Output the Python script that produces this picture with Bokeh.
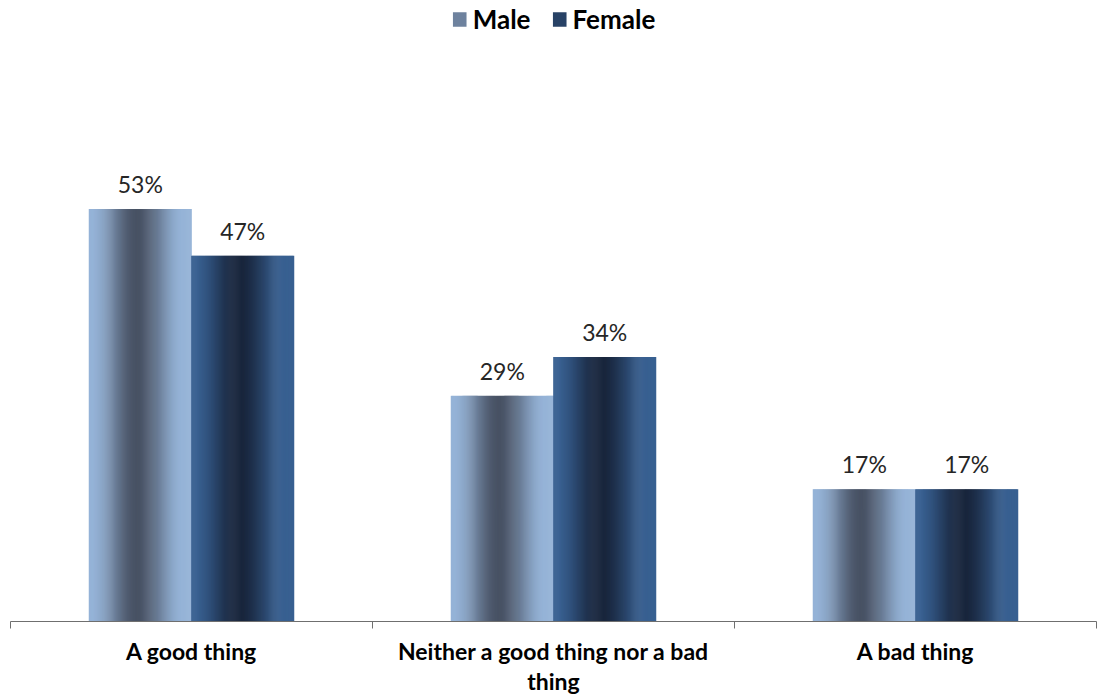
import numpy as np
from bokeh.plotting import figure
from bokeh.models import (ColumnDataSource, Range1d, FixedTicker, Legend, LegendItem)
from bokeh.core.properties import value
from bokeh.embed import file_html
from bokeh.resources import INLINE

# ---- data ----
categories = ["A good thing", "Neither a good thing nor a bad thing", "A bad thing"]
tick_labels = ["A good thing", "Neither a good thing nor a bad\nthing", "A bad thing"]
series_names = ["Male", "Female"]
male = [53, 29, 17]
female = [47, 34, 17]

# ---- styling ----
FONT = "Lato"
male_light, male_dark = (149, 179, 215), (72, 82, 100)
female_light, female_dark = (56, 96, 145), (24, 37, 60)
BAR_W = 0.283
N = 100

def hexcol(c):
    return "#%02x%02x%02x" % tuple(int(round(v)) for v in c)

def profile(t):
    d = np.clip(1 - np.abs(t - 0.47) / 0.45, 0, 1)
    return d * d * (3 - 2 * d)

p = figure(width=1097, height=698, output_backend="svg", toolbar_location=None,
           x_range=Range1d(0, 3), y_range=Range1d(0, 79.8),
           min_border_left=10, min_border_right=1, min_border_top=0, min_border_bottom=74)
p.outline_line_color = None
p.background_fill_color = "white"
p.border_fill_color = "white"
p.xgrid.visible = False
p.ygrid.visible = False
p.yaxis.visible = False

centers = np.arange(len(categories)) + 0.5
legend_items = []
for s, (vals, light, dark, off) in enumerate([(male, male_light, male_dark, -BAR_W / 2),
                                             (female, female_light, female_dark, BAR_W / 2)]):
    xs, tops, cols = [], [], []
    for i, v in enumerate(vals):
        left = centers[i] + off - BAR_W / 2
        for k in range(N):
            t = (k + 0.5) / N
            d = profile(t)
            c = tuple(light[j] * (1 - d) + dark[j] * d for j in range(3))
            xs.append(left + t * BAR_W)
            tops.append(v)
            cols.append(hexcol(c))
    src = ColumnDataSource(dict(x=xs, top=tops, color=cols))
    p.vbar(x="x", top="top", bottom=0, width=BAR_W / N * 1.6, fill_color="color",
           line_color=None, source=src)
    lsrc = ColumnDataSource(dict(x=centers + off, y=vals, t=["%d%%" % v for v in vals]))
    p.text(x="x", y="y", text="t", source=lsrc, text_align="center", text_baseline="bottom",
           y_offset=-11, text_font=value(FONT), text_font_size="23px", text_color="#262626")
    mid = tuple(light[j] * 0.5 + dark[j] * 0.5 for j in range(3))
    dummy = p.vbar(x=[-10], top=[0], width=0.1, fill_color=hexcol(mid), line_color=None)
    legend_items.append(LegendItem(label=series_names[s], renderers=[dummy]))

legend = Legend(items=legend_items, location="top_center", orientation="horizontal",
                label_text_font=FONT, label_text_font_style="bold", label_text_font_size="26px",
                label_text_color="#000000", glyph_width=17, glyph_height=18, label_standoff=5,
                spacing=20, padding=0, margin=3, border_line_color=None,
                background_fill_alpha=0)
p.add_layout(legend, "center")

ax = p.xaxis[0]
ax.ticker = FixedTicker(ticks=list(centers), minor_ticks=list(np.arange(len(categories) + 1)))
ax.major_label_overrides = {float(c): lab for c, lab in zip(centers, tick_labels)}
ax.major_tick_out = 0
ax.major_tick_in = 0
ax.minor_tick_out = 7
ax.minor_tick_in = 0
ax.axis_line_color = "#6f6f6f"
ax.minor_tick_line_color = "#6f6f6f"
ax.major_label_standoff = 8
ax.major_label_text_font = FONT
ax.major_label_text_font_style = "bold"
ax.major_label_text_font_size = "23px"
ax.major_label_text_color = "#000000"
ax.major_label_text_line_height = 1.1

open("out.html", "w").write(file_html(p, INLINE))
